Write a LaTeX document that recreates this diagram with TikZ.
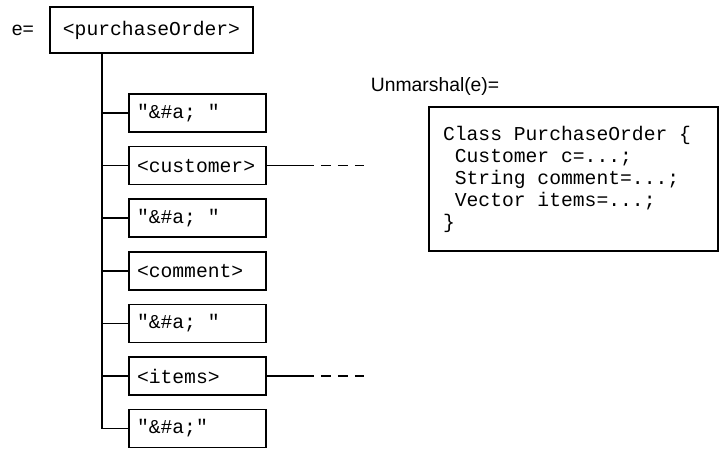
\documentclass[tikz,border=0pt]{standalone}
\usepackage{fontspec}
\setmainfont{Liberation Sans}
\setsansfont{Liberation Sans}
\setmonofont{Liberation Mono}
\usepackage{tikz}
\usetikzlibrary{positioning}
\newcommand\ind{\hphantom{x}}
\newcommand\elem[3][]{%
  \node[elembox,#1] (#2) {#3};
}

\begin{document}
\begin{tikzpicture}[x=0.02cm, y=-0.02cm,
node distance=0.257cm,
line width=1pt,
code/.style={
  font=\ttfamily\fontsize{11.2}{12.5}\selectfont,
  execute at begin node={\spaceskip=0.6em\relax}},
lbl/.style={font=\sffamily\fontsize{11}{13}\selectfont, inner sep=0pt},
elembox/.style={
  code,
  draw,
  minimum height=0.76cm,
  text width=2.42cm,
  inner xsep=0.16cm,
  align=left},
rootbox/.style={code, draw, minimum width=4.06cm, minimum height=0.92cm},
classbox/.style={
  code,
  draw,
  minimum height=2.88cm,
  text width=5.22cm,
  inner xsep=0.28cm,
  align=left},
leader/.style={dash pattern=on 0.94cm off 0.14cm on 0.2cm off 0.14cm on 0.2cm off 0.14cm on 0.2cm off 1cm}
]
\useasboundingbox (0,0) rectangle (719,449);

% the element tree
\node[lbl, anchor=west] (eq) at (11,30) {e=};
\node[rootbox] (po) at (151.5,30) {<purchaseOrder>};
\elem[at={(197.5,113)}]{txta}{"\&\#a; "}
\elem[below=of txta]{cust}{<customer>}
\elem[below=of cust]{txtb}{"\&\#a; "}
\elem[below=of txtb]{comment}{<comment>}
\elem[below=of comment]{txtc}{"\&\#a; "}
\elem[below=of txtc]{items}{<items>}
\elem[below=of items]{txtd}{"\&\#a;"}

\coordinate (trunk) at ([xshift=1.06cm]po.south west);
\draw (trunk) |- (txtd.west);
\foreach \c in {txta,cust,txtb,comment,txtc,items}
  \draw (trunk |- \c.west) -- (\c.west);

% children left open
\coordinate (custend) at ([xshift=1.94cm]cust.east);
\coordinate (itemsend) at ([xshift=1.94cm]items.east);
\draw[leader] (cust.east) -- (custend);
\draw[leader] (items.east) -- (itemsend);

% the unmarshalled object
\node[lbl, anchor=base west] (um) at (370,92) {Unmarshal(e)=};
\node[classbox] (cls) at (573.5,179) {Class PurchaseOrder \{\\
\ind Customer c=...;\\
\ind String comment=...;\\
\ind Vector items=...;\\
\}};

\end{tikzpicture}
\end{document}
